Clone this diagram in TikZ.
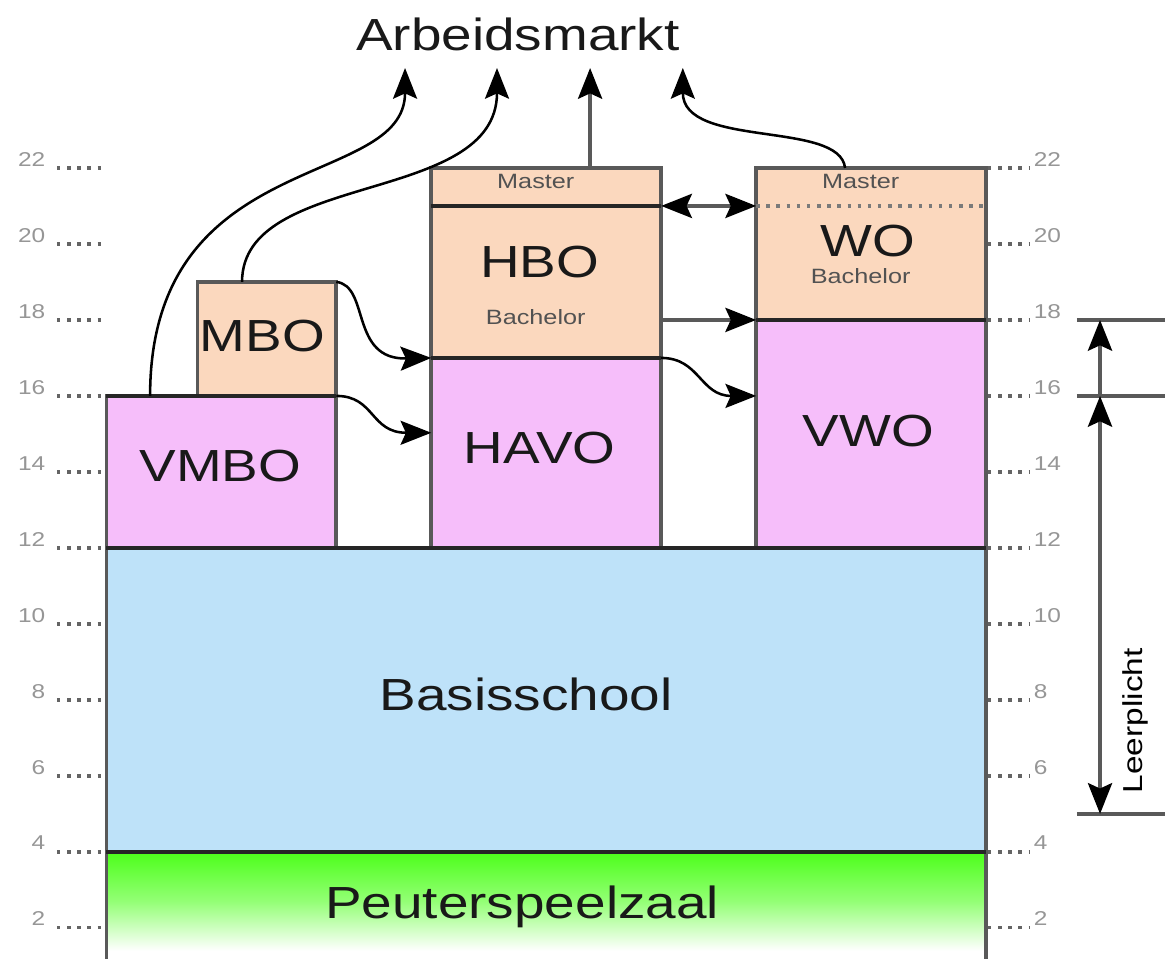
\documentclass[tikz,border=0pt]{standalone}
\usepackage{fontspec}
\setmainfont{Liberation Sans}[FakeStretch=1.22]
\usetikzlibrary{arrows.meta}

\definecolor{pinkfill}{RGB}{246,190,250}
\definecolor{peachfill}{RGB}{251,216,190}
\definecolor{bluefill}{RGB}{190,226,249}
\definecolor{greenfill}{RGB}{76,255,26}
\definecolor{boxgray}{RGB}{89,89,89}
\definecolor{numgray}{RGB}{150,150,150}
\definecolor{tickgray}{RGB}{100,100,100}

\begin{document}
\begin{tikzpicture}[
  bigtip/.tip={Stealth[length=23pt,width=18pt,inset=4pt,black]},
  box/.style={draw=boxgray, line width=2.8pt, inner sep=0pt, outer sep=0pt, anchor=south west},
  divider/.style={line width=2.8pt, black!85},
  tick/.style={tickgray, line width=2.4pt, dash pattern=on 2.6pt off 5pt},
  num/.style={numgray, inner sep=0pt, font=\fontsize{15}{18}\selectfont},
  big/.style={anchor=base, inner sep=0pt, text=black!90, font=\fontsize{33.7}{40}\selectfont},
  small/.style={anchor=base, inner sep=0pt, text=black!68, font=\fontsize{15.5}{18}\selectfont},
  flow/.style={line width=1.9pt, black, -bigtip},
  gflow/.style={line width=2.8pt, boxgray, -bigtip}
]

\useasboundingbox (0,1.184) rectangle (30.66,26.42);

% blocks

\node[box, draw=none, top color=greenfill, bottom color=white, middle color=greenfill!60, minimum width=23.15cm, minimum height=2.6cm] (peuter) at (2.8,1.4) {};
\draw[boxgray, line width=2.8pt] (2.8,1.0) -- (2.8,4);
\draw[boxgray, line width=2.8pt] (25.95,1.0) -- (25.95,4);

\node[box, fill=bluefill, minimum width=23.15cm, minimum height=8cm] (basis) at (2.8,4) {};
\node[box, fill=pinkfill, minimum width=6.05cm, minimum height=4cm] (vmbo) at (2.8,12) {};
\node[box, fill=peachfill, minimum width=3.65cm, minimum height=3cm] (mbo) at (5.2,16) {};
\node[box, fill=pinkfill, minimum width=6.05cm, minimum height=5cm] (havo) at (11.35,12) {};
\node[box, fill=peachfill, minimum width=6.05cm, minimum height=4cm] (hbo) at (11.35,17) {};
\node[box, fill=peachfill, minimum width=6.05cm, minimum height=1cm] (hbomaster) at (11.35,21) {};
\node[box, fill=pinkfill, minimum width=6.05cm, minimum height=6cm] (vwo) at (19.9,12) {};
\node[box, fill=peachfill, minimum width=6.05cm, minimum height=4cm] (wo) at (19.9,18) {};

% dividers

\draw[divider] (peuter.north west) -- (peuter.north east);
\draw[divider] (basis.north west) -- (basis.north east);
\draw[divider] (vmbo.north west) -- (vmbo.north east);
\draw[divider] (havo.north west) -- (havo.north east);
\draw[divider] (hbo.north west) -- (hbo.north east);
\draw[divider] (vwo.north west) -- (vwo.north east);

\coordinate (wo21l) at (19.9,21);
\coordinate (wo21r) at (25.95,21);
\draw[tick, boxgray!80] (wo21l) -- (wo21r);

% labels

\node[big] (markt) at (13.63,25.08) {Arbeidsmarkt};
\node[big] (lvmbo) at (5.8,13.76) {VMBO};
\node[big] (lmbo) at (6.9,17.18) {MBO};
\node[big] (lhavo) at (14.2,14.21) {HAVO};
\node[big] (lhbo) at (14.2,19.11) {HBO};
\node[small] (lhbobach) at (14.1,17.87) {Bachelor};
\node[small] (lhbomast) at (14.1,21.45) {Master};
\node[big] (lvwo) at (22.85,14.68) {VWO};
\node[big] (lwo) at (22.85,19.68) {WO};
\node[small] (lwobach) at (22.65,18.95) {Bachelor};
\node[small] (lwomast) at (22.65,21.45) {Master};
\node[big] (lbasis) at (13.84,7.71) {Basisschool};
\node[big] (lpeuter) at (13.74,2.26) {Peuterspeelzaal};

% age scale

\foreach \a in {2,4,...,22}{
  \draw[tick] (1.5,\a) -- (2.72,\a);
  \draw[tick] (26.0,\a) -- (27.1,\a);
  \node[num, anchor=base east] (ln\a) at (1.2,\a+0.05) {\a};
  \node[num, anchor=base west] (rn\a) at (27.2,\a+0.05) {\a};
}

% arrows to arbeidsmarkt

\coordinate (s1) at (3.95,16);
\coordinate (s2) at (6.37,19);
\coordinate (s3) at (15.53,22);
\coordinate (s4) at (22.24,22);
\coordinate (t1) at (10.66,24.63);
\coordinate (t2) at (13.08,24.63);
\coordinate (t3) at (15.53,24.63);
\coordinate (t4) at (17.97,24.63);

\draw[flow] (s1) .. controls (3.95,22.6) and (10.66,21.4) .. (t1);
\draw[flow] (s2) .. controls (6.37,21.95) and (13.08,21.0) .. (t2);
\draw[gflow] (s3) -- (t3);
\draw[flow] (s4) .. controls (22.1,23.26) and (17.97,22.5) .. (t4);

% arrows between schools

\coordinate (h17) at (11.35,17);
\coordinate (h15) at (11.35,15.03);
\coordinate (v16) at (19.9,16.0);
\coordinate (hb18) at (17.4,18);
\coordinate (v18) at (19.9,18);
\coordinate (hb21) at (17.4,21);

\draw[flow] (mbo.north east) .. controls (9.74,18.9) and (9.2,16.95) .. (h17);
\draw[flow] (vmbo.north east) .. controls (9.87,16) and (9.74,15.03) .. (h15);
\draw[flow] (havo.north east) .. controls (18.42,17) and (18.42,16.0) .. (v16);
\draw[gflow] (hb18) -- (v18);
\draw[gflow, bigtip-bigtip] (hb21) -- (wo21l);

% leerplicht

\coordinate (lp18) at (28.95,18);
\coordinate (lp16) at (28.95,16);
\coordinate (lp5) at (28.95,5);
\draw[boxgray, line width=2.6pt] (28.34,18) -- (30.66,18);
\draw[boxgray, line width=2.6pt] (28.34,16) -- (30.66,16);
\draw[boxgray, line width=2.6pt] (28.34,5) -- (30.66,5);
\draw[gflow, line width=3pt] (lp16) -- (lp18);
\draw[gflow, line width=3pt, bigtip-bigtip] (lp5) -- (lp16);
\node[rotate=90, inner sep=0pt, font=\fontsize{20.5}{24}\selectfont] (leer) at (29.87,7.45) {Leerplicht};

\end{tikzpicture}
\end{document}
